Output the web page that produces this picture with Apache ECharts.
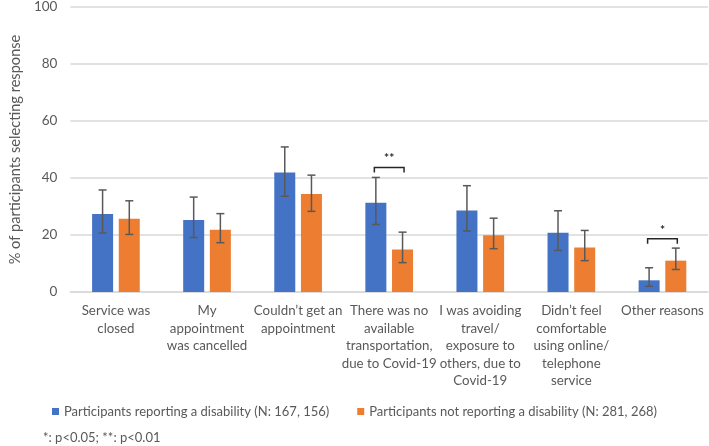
<!DOCTYPE html>
<html>
<head>
<meta charset="utf-8">
<script src="https://cdn.jsdelivr.net/npm/echarts@6/dist/echarts.min.js"></script>
<style>
  html, body { margin: 0; padding: 0; background: #fff; }
  #main { width: 709px; height: 446px; }
</style>
</head>
<body>
<div id="main"></div>
<script>
// categories (x axis)
var categories = [
  'Service was\nclosed',
  'My\nappointment\nwas cancelled',
  'Couldn\u2019t get an\nappointment',
  'There was no\navailable\ntransportation,\ndue to Covid-19',
  'I was avoiding\ntravel/\nexposure to\nothers, due to\nCovid-19',
  'Didn\u2019t feel\ncomfortable\nusing online/\ntelephone\nservice',
  'Other reasons'
];

// participants reporting a disability
var disabledPct  = [27.4, 25.3, 41.9, 31.3, 28.6, 20.8, 4.1];
var disabledLow  = [20.7, 19.1, 33.6, 23.7, 21.4, 14.6, 2.0];
var disabledHigh = [35.8, 33.3, 50.9, 40.2, 37.3, 28.5, 8.5];

// participants not reporting a disability
var otherPct  = [25.7, 21.8, 34.4, 14.9, 19.9, 15.6, 11.0];
var otherLow  = [20.2, 17.3, 28.3, 10.3, 15.2, 11.0, 7.9];
var otherHigh = [32.0, 27.5, 41.0, 21.0, 25.9, 21.6, 15.4];

// significance brackets
var sigIndex  = [3, 6];
var sigHeight = [43.7, 18.7];
var sigLabel  = ['**', '*'];

var yTicks = [0, 20, 40, 60, 80, 100];

var BLUE = '#4472C4';
var ORANGE = '#ED7D31';
var TXT = '#595959';
var FONT = 'Lato, "Noto Sans", sans-serif';
var BAR_W = 21;
var GAP = 5.7;
var OFF = (BAR_W + GAP) / 2;

var chart = echarts.init(document.getElementById('main'));

function errData(low, high) {
  var out = [];
  for (var i = 0; i < low.length; i++) out.push([i, low[i], high[i]]);
  return out;
}

function errRender(offset) {
  return function (params, api) {
    var lo = api.coord([api.value(0), api.value(1)]);
    var hi = api.coord([api.value(0), api.value(2)]);
    var x = lo[0] + offset;
    var style = { stroke: TXT, lineWidth: 1.5 };
    return {
      type: 'group',
      children: [
        { type: 'line', shape: { x1: x, y1: lo[1], x2: x, y2: hi[1] }, style: style },
        { type: 'line', shape: { x1: x - 4, y1: lo[1], x2: x + 4, y2: lo[1] }, style: style },
        { type: 'line', shape: { x1: x - 4, y1: hi[1], x2: x + 4, y2: hi[1] }, style: style }
      ]
    };
  };
}

var sigData = [];
for (var i = 0; i < sigIndex.length; i++) sigData.push([sigIndex[i], sigHeight[i], sigLabel[i]]);

option = {
  animation: false,
  textStyle: { fontFamily: FONT },
  grid: { left: 56, right: 1, top: 5, bottom: 154 },
  legend: {
    left: 'center',
    top: 400,
    icon: 'rect',
    itemWidth: 7,
    itemHeight: 7,
    itemGap: 28,
    textStyle: { color: TXT, fontSize: 13, fontFamily: FONT },
    data: ['Participants reporting a disability (N: 167, 156)',
           'Participants not reporting a disability (N: 281, 268)']
  },
  graphic: [{
    type: 'text',
    left: 43,
    top: 431,
    style: { text: '*: p<0.05; **: p<0.01', fill: TXT, font: '13px ' + FONT }
  }],
  xAxis: {
    type: 'category',
    data: categories,
    axisLine: { lineStyle: { color: '#d9d9d9', width: 1.5 } },
    axisTick: { show: false },
    axisLabel: { color: TXT, fontSize: 13.3, lineHeight: 17.5, margin: 10, interval: 0, fontFamily: FONT }
  },
  yAxis: {
    type: 'value',
    min: yTicks[0],
    max: yTicks[yTicks.length - 1],
    interval: 20,
    name: '% of participants selecting response',
    nameLocation: 'middle',
    nameGap: 47,
    nameTextStyle: { color: TXT, fontSize: 14.6, fontFamily: FONT },
    axisLabel: { color: TXT, fontSize: 13.5, margin: 13, fontFamily: FONT },
    splitLine: { lineStyle: { color: '#d9d9d9', width: 1.5 } }
  },
  series: [
    {
      name: 'Participants reporting a disability (N: 167, 156)',
      type: 'bar',
      data: disabledPct,
      barWidth: BAR_W,
      barGap: (GAP / BAR_W * 100).toFixed(0) + '%',
      itemStyle: { color: BLUE }
    },
    {
      name: 'Participants not reporting a disability (N: 281, 268)',
      type: 'bar',
      data: otherPct,
      barWidth: BAR_W,
      itemStyle: { color: ORANGE }
    },
    {
      type: 'custom',
      renderItem: errRender(-OFF),
      encode: { x: 0, y: [1, 2] },
      data: errData(disabledLow, disabledHigh),
      z: 10
    },
    {
      type: 'custom',
      renderItem: errRender(OFF),
      encode: { x: 0, y: [1, 2] },
      data: errData(otherLow, otherHigh),
      z: 10
    },
    {
      type: 'custom',
      encode: { x: 0, y: 1 },
      data: sigData,
      z: 10,
      renderItem: function (params, api) {
        var p = api.coord([api.value(0), api.value(1)]);
        var x1 = p[0] - OFF - 1.5;
        var x2 = p[0] + OFF + 1.5;
        var y = p[1];
        return {
          type: 'group',
          children: [
            { type: 'polyline',
              shape: { points: [[x1, y + 5], [x1, y], [x2, y], [x2, y + 5]] },
              style: { stroke: '#262626', lineWidth: 1.5, fill: null } },
            { type: 'text',
              style: { text: sigData[params.dataIndex][2], x: (x1 + x2) / 2, y: y - 3,
                       align: 'center', verticalAlign: 'bottom',
                       fill: '#262626', font: 'bold 12px ' + FONT } }
          ]
        };
      }
    }
  ]
};

chart.setOption(option);
</script>
</body>
</html>
